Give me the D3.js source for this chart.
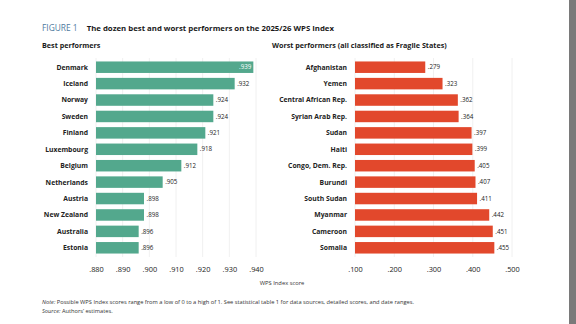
<!DOCTYPE html>
<html>
<head>
<meta charset="utf-8">
<script src="https://cdn.jsdelivr.net/npm/d3@7"></script>
<style>
  body { margin: 0; background: #fff; }
  svg { display: block; font-family: "Open Sans", sans-serif; }
</style>
</head>
<body>
<div id="app"></div>
<script>
let width = 576;
let height = 324;

// best performers
let bestNames = ["Denmark","Iceland","Norway","Sweden","Finland","Luxembourg","Belgium","Netherlands","Austria","New Zealand","Australia","Estonia"];
let bestValues = [0.939,0.932,0.924,0.924,0.921,0.918,0.912,0.905,0.898,0.898,0.896,0.896];
let bestTicks = [0.88,0.89,0.90,0.91,0.92,0.93,0.94];

// worst performers
let worstNames = ["Afghanistan","Yemen","Central African Rep.","Syrian Arab Rep.","Sudan","Haiti","Congo, Dem. Rep.","Burundi","South Sudan","Myanmar","Cameroon","Somalia"];
let worstValues = [0.279,0.323,0.362,0.364,0.397,0.399,0.405,0.407,0.411,0.442,0.451,0.455];
let worstTicks = [0.1,0.2,0.3,0.4,0.5];

const fmt = v => d3.format(".3f")(v).replace(/^0/, "");

let svg = d3.select("#app").append("svg")
  .attr("width", width)
  .attr("height", height);

// gray strip on right edge
svg.append("rect").attr("x", 569).attr("y", 0).attr("width", 7).attr("height", height).attr("fill", "#7a7a7a");

// title
let title = svg.append("text").attr("x", 42).attr("y", 31).attr("font-size", 7.8);
title.append("tspan").attr("fill", "#4f7aa0").attr("font-size", 8.4).text("FIGURE 1");
title.append("tspan").attr("dx", 9).attr("fill", "#1a1a1a").attr("font-weight", "bold").text("The dozen best and worst performers on the 2025/26 WPS Index");

function panel(opts) {
  let x = d3.scaleLinear().domain(opts.domain).range(opts.range);
  let y = d3.scaleBand().domain(opts.names).range([59, 256]).paddingInner(0.3).paddingOuter(0.15);
  let g = svg.append("g");

  g.append("text").attr("x", opts.headX).attr("y", 48)
    .attr("font-size", 7.2).attr("font-weight", "bold").attr("fill", "#1a1a1a")
    .text(opts.head);

  g.selectAll(".grid").data(opts.ticks).join("line")
    .attr("x1", d => x(d)).attr("x2", d => x(d))
    .attr("y1", 58).attr("y2", 257)
    .attr("stroke", "#ececec").attr("stroke-width", 0.8);

  g.selectAll(".bar").data(opts.values).join("rect")
    .attr("x", x(opts.domain[0]))
    .attr("y", (d, i) => y(opts.names[i]))
    .attr("width", d => x(d) - x(opts.domain[0]))
    .attr("height", y.bandwidth())
    .attr("fill", opts.color);

  g.selectAll(".name").data(opts.names).join("text")
    .attr("x", x(opts.domain[0]) - 8)
    .attr("y", d => y(d) + y.bandwidth() / 2)
    .attr("dy", "0.35em")
    .attr("text-anchor", "end")
    .attr("font-size", 6.8).attr("font-weight", "bold").attr("fill", "#222")
    .text(d => d);

  g.selectAll(".val").data(opts.values).join("text")
    .attr("x", (d, i) => opts.inside && i == 0 ? x(d) - 2 : x(d) + 2.5)
    .attr("y", (d, i) => y(opts.names[i]) + y.bandwidth() / 2)
    .attr("dy", "0.35em")
    .attr("text-anchor", (d, i) => opts.inside && i == 0 ? "end" : "start")
    .attr("font-size", 6.2)
    .attr("fill", (d, i) => opts.inside && i == 0 ? "#fff" : "#222")
    .text(fmt);

  let axis = g.append("g").attr("transform", "translate(0,264)")
    .call(d3.axisBottom(x).tickValues(opts.ticks).tickFormat(fmt).tickSize(0));
  axis.select(".domain").remove();
  axis.selectAll("text").attr("font-size", 7.4).attr("fill", "#222")
    .attr("font-family", "'Open Sans', sans-serif");
}

panel({
  names: bestNames, values: bestValues, ticks: bestTicks,
  domain: [0.88, 0.94], range: [96, 256], color: "#53a88d",
  head: "Best performers", headX: 42, inside: true
});

panel({
  names: worstNames, values: worstValues, ticks: worstTicks,
  domain: [0.1, 0.5], range: [355, 512], color: "#e2482c",
  head: "Worst performers (all classified as Fragile States)", headX: 272, inside: false
});

svg.append("text").attr("x", 282).attr("y", 285).attr("text-anchor", "middle")
  .attr("font-size", 5.8).attr("fill", "#333").text("WPS Index score");

let note = svg.append("text").attr("font-size", 5.7).attr("fill", "#333");
note.append("tspan").attr("x", 42).attr("y", 304)
  .html("<tspan font-style='italic'>Note:</tspan> Possible WPS Index scores range from a low of 0 to a high of 1. See statistical table 1 for data sources, detailed scores, and date ranges.");
note.append("tspan").attr("x", 42).attr("y", 313)
  .html("<tspan font-style='italic'>Source:</tspan> Authors’ estimates.");
</script>
</body>
</html>
